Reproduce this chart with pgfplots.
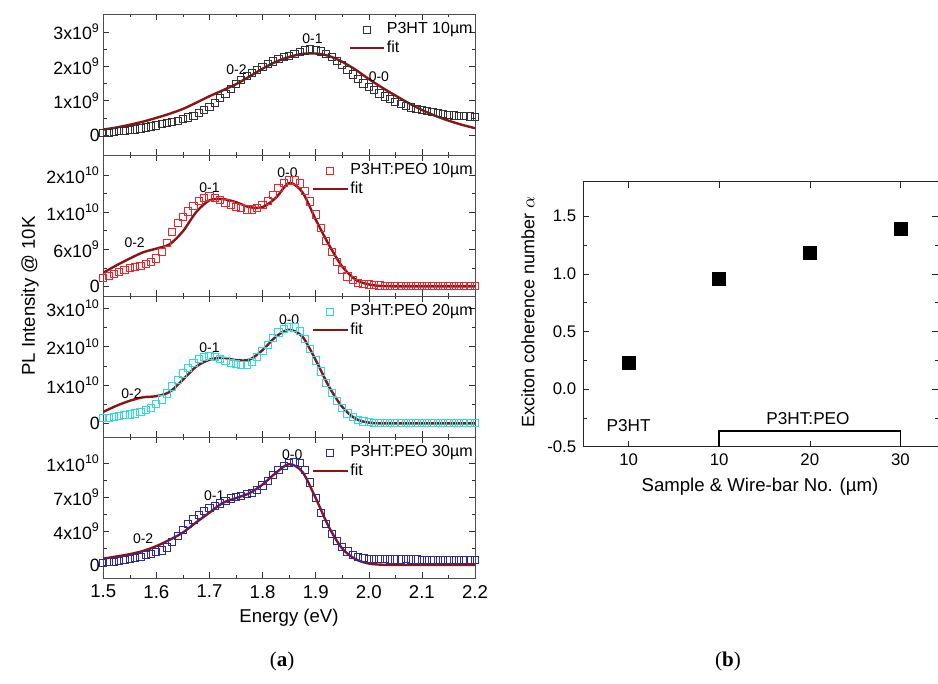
\documentclass[border=0pt]{standalone}
\usepackage{fontspec}
\setmainfont{Liberation Sans}
\newfontfamily\capfont{Liberation Serif}
\usepackage{pgfplots}
\pgfplotsset{compat=1.18}

\definecolor{fitred}{HTML}{8B1414}
\definecolor{pred}{HTML}{E8282E}
\definecolor{pcyan}{HTML}{2EDCE0}
\definecolor{pblue}{HTML}{2B2BA8}
\definecolor{pgray}{HTML}{333333}

\tikzset{pk/.style={font=\fontsize{7}{8}\selectfont}}
\pgfplotsset{
  spec/.style={
    scale only axis, anchor=north west,
    width=185.85pt, height=70.5pt,
    xmin=1.5, xmax=2.2,
    xtick={1.5,1.6,1.7,1.8,1.9,2.0,2.1,2.2},
    xticklabels={},
    minor x tick num=1, minor y tick num=1,
    tick align=inside,
    major tick length=3pt, minor tick length=1.7pt,
    axis line style={black!70},
    tick style={black!80},
    yticklabel style={font=\fontsize{8.9}{10}\selectfont, inner sep=1.5pt},
    legend style={at={(1,1)}, anchor=north east, yshift=-3.2pt, draw=none, fill=none,
      font=\fontsize{8}{9}\selectfont, inner sep=0pt, row sep=0pt,
      nodes={inner sep=1pt}},
    legend cell align=left,
  },
  dat/.style={only marks, mark=square, mark size=1.8pt, mark options={line width=0.5pt}},
  fitl/.style={no marks, smooth, fitred, line width=1.2pt},
}

\begin{document}
\begin{tikzpicture}
\useasboundingbox (0,0) rectangle (469pt,-342pt);

% panel 1: P3HT 10um (units 1e9)
\begin{axis}[spec, at={(51.65pt,-7pt)}, ymin=-0.58, ymax=3.52,
  ytick={0,1,2,3}, yticklabels={0,1x10\textsuperscript{9},2x10\textsuperscript{9},3x10\textsuperscript{9}},
  legend entries={P3HT 10µm, fit}]
\addplot[dat, pgray] coordinates {
(1.50,0.05) (1.51,0.07) (1.52,0.09) (1.53,0.11) (1.54,0.12) (1.55,0.14) (1.56,0.16) (1.57,0.19)
(1.58,0.22) (1.59,0.25) (1.60,0.28) (1.61,0.31) (1.62,0.34) (1.63,0.38) (1.64,0.42) (1.65,0.46)
(1.66,0.51) (1.67,0.56) (1.68,0.63) (1.69,0.72) (1.70,0.82) (1.71,0.94) (1.72,1.07) (1.73,1.20)
(1.74,1.34) (1.75,1.48) (1.76,1.60) (1.77,1.71) (1.78,1.81) (1.79,1.90) (1.80,1.99) (1.81,2.07)
(1.82,2.14) (1.83,2.20) (1.84,2.26) (1.85,2.31) (1.86,2.36) (1.87,2.41) (1.88,2.46) (1.89,2.49)
(1.90,2.48) (1.91,2.43) (1.92,2.36) (1.93,2.27) (1.94,2.16) (1.95,2.04) (1.96,1.90) (1.97,1.76)
(1.98,1.62) (1.99,1.50) (2.00,1.40) (2.01,1.30) (2.02,1.21) (2.03,1.12) (2.04,1.04) (2.05,0.97)
(2.06,0.91) (2.07,0.85) (2.08,0.80) (2.09,0.76) (2.10,0.72) (2.11,0.69) (2.12,0.66) (2.13,0.63)
(2.14,0.61) (2.15,0.59) (2.16,0.57) (2.17,0.56) (2.18,0.55) (2.19,0.54) (2.20,0.53)};
\addplot[fitl] coordinates {
(1.500,0.16) (1.525,0.22) (1.550,0.30) (1.575,0.39) (1.600,0.50) (1.625,0.62) (1.650,0.76)
(1.675,0.94) (1.700,1.13) (1.725,1.30) (1.750,1.48) (1.775,1.70) (1.800,1.93) (1.825,2.13)
(1.850,2.27) (1.875,2.36) (1.900,2.37) (1.925,2.30) (1.950,2.13) (1.975,1.90) (2.000,1.63)
(2.025,1.38) (2.050,1.15) (2.075,0.93) (2.100,0.73) (2.125,0.56) (2.150,0.42) (2.175,0.30) (2.200,0.20)};
\node[pk] at (axis cs:1.751,1.91) {0-2};
\node[pk] at (axis cs:1.894,2.80) {0-1};
\node[pk] at (axis cs:2.019,1.71) {0-0};
\end{axis}

% panel 2: P3HT:PEO 10um (units 1e9)
\begin{axis}[spec, at={(51.65pt,-77.5pt)}, ymin=-1.56, ymax=21.22,
  ytick={0,6,12,18}, yticklabels={0,6x10\textsuperscript{9},1x10\textsuperscript{10},2x10\textsuperscript{10}},
  legend entries={P3HT:PEO 10µm, fit}]
\addplot[dat, pred] coordinates {
(1.50,1.4) (1.51,1.7) (1.52,2.0) (1.53,2.3) (1.54,2.6) (1.55,2.9) (1.56,3.1) (1.57,3.3)
(1.58,3.6) (1.59,3.9) (1.60,4.5) (1.61,5.6) (1.62,7.0) (1.63,8.8) (1.64,10.2) (1.65,11.2)
(1.66,12.1) (1.67,13.0) (1.68,13.8) (1.69,14.3) (1.70,14.5) (1.71,14.3) (1.72,13.9) (1.73,13.5)
(1.74,13.1) (1.75,12.8) (1.76,12.6) (1.77,12.4) (1.78,12.4) (1.79,12.6) (1.80,13.1) (1.81,13.8)
(1.82,14.8) (1.83,15.9) (1.84,16.7) (1.85,17.1) (1.86,17.1) (1.87,16.6) (1.88,15.4) (1.89,13.7)
(1.90,11.6) (1.91,9.4) (1.92,7.3) (1.93,5.5) (1.94,3.9) (1.95,2.6) (1.96,1.6) (1.97,1.0)
(1.98,0.6) (1.99,0.4) (2.00,0.3) (2.01,0.2) (2.02,0.15) (2.03,0.1) (2.04,0.1) (2.05,0.1)
(2.06,0.1) (2.07,0.1) (2.08,0.1) (2.09,0.1) (2.10,0.1) (2.11,0.1) (2.12,0.1) (2.13,0.1)
(2.14,0.1) (2.15,0.1) (2.16,0.1) (2.17,0.1) (2.18,0.1) (2.19,0.1) (2.20,0.1)};
\addplot[fitl] coordinates {
(1.500,2.2) (1.525,3.4) (1.550,4.5) (1.575,5.5) (1.600,6.1) (1.625,6.8) (1.650,8.9)
(1.675,12.0) (1.700,13.9) (1.725,14.1) (1.750,13.6) (1.775,12.8) (1.800,12.8) (1.825,14.3)
(1.850,16.7) (1.875,15.2) (1.900,10.8) (1.925,6.7) (1.950,3.2) (1.975,1.1) (2.000,0.3)
(2.025,0.05) (2.050,0) (2.100,0) (2.150,0) (2.200,0)};
\node[pk] at (axis cs:1.559,7.0) {0-2};
\node[pk] at (axis cs:1.700,15.9) {0-1};
\node[pk] at (axis cs:1.847,18.4) {0-0};
\end{axis}

% panel 3: P3HT:PEO 20um (units 1e10)
\begin{axis}[spec, at={(51.65pt,-148pt)}, ymin=-0.355, ymax=3.32,
  ytick={0,1,2,3}, yticklabels={0,1x10\textsuperscript{10},2x10\textsuperscript{10},3x10\textsuperscript{10}},
  legend entries={P3HT:PEO 20µm, fit}]
\addplot[dat, pcyan] coordinates {
(1.50,0.13) (1.51,0.15) (1.52,0.17) (1.53,0.19) (1.54,0.21) (1.55,0.23) (1.56,0.26) (1.57,0.30)
(1.58,0.35) (1.59,0.41) (1.60,0.50) (1.61,0.62) (1.62,0.78) (1.63,0.96) (1.64,1.13) (1.65,1.30)
(1.66,1.45) (1.67,1.58) (1.68,1.68) (1.69,1.73) (1.70,1.75) (1.71,1.73) (1.72,1.68) (1.73,1.62)
(1.74,1.57) (1.75,1.54) (1.76,1.52) (1.77,1.53) (1.78,1.60) (1.79,1.72) (1.80,1.88) (1.81,2.05)
(1.82,2.22) (1.83,2.37) (1.84,2.47) (1.85,2.52) (1.86,2.50) (1.87,2.40) (1.88,2.20) (1.89,1.93)
(1.90,1.64) (1.91,1.35) (1.92,1.06) (1.93,0.80) (1.94,0.58) (1.95,0.40) (1.96,0.26) (1.97,0.16)
(1.98,0.09) (1.99,0.05) (2.00,0.03) (2.01,0.02) (2.02,0.01) (2.03,0.01) (2.04,0.01) (2.05,0.01)
(2.06,0.01) (2.07,0.01) (2.08,0.01) (2.09,0.01) (2.10,0.01) (2.11,0.01) (2.12,0.01) (2.13,0.01)
(2.14,0.01) (2.15,0.01) (2.16,0.01) (2.17,0.01) (2.18,0.01) (2.19,0.01) (2.20,0.01)};
\addplot[fitl] coordinates {
(1.500,0.30) (1.525,0.46) (1.550,0.59) (1.575,0.68) (1.600,0.71) (1.625,0.82) (1.650,1.14)
(1.675,1.48) (1.700,1.66) (1.725,1.71) (1.750,1.65) (1.775,1.66) (1.800,1.91) (1.825,2.26)
(1.850,2.44) (1.875,2.26) (1.900,1.65) (1.925,0.96) (1.950,0.43) (1.975,0.12) (2.000,0.02)
(2.025,0) (2.100,0) (2.200,0)};
\node[pk] at (axis cs:1.553,0.78) {0-2};
\node[pk] at (axis cs:1.700,1.96) {0-1};
\node[pk] at (axis cs:1.850,2.70) {0-0};
\end{axis}

% panel 4: P3HT:PEO 30um (units 1e9)
\begin{axis}[spec, at={(51.65pt,-218.5pt)}, ymin=-1.34, ymax=13.2,
  ytick={0,3.5,7,10.5}, yticklabels={0,4x10\textsuperscript{9},7x10\textsuperscript{9},1x10\textsuperscript{10}},
  xticklabels={1.5,1.6,1.7,1.8,1.9,2.0,2.1,2.2},
  xticklabel style={font=\fontsize{9.3}{10}\selectfont},
  legend entries={P3HT:PEO 30µm, fit}]
\addplot[dat, pblue] coordinates {
(1.50,0.20) (1.51,0.27) (1.52,0.34) (1.53,0.42) (1.54,0.50) (1.55,0.60) (1.56,0.72) (1.57,0.86)
(1.58,1.00) (1.59,1.15) (1.60,1.30) (1.61,1.50) (1.62,1.80) (1.63,2.40) (1.64,3.00) (1.65,3.60)
(1.66,4.20) (1.67,4.70) (1.68,5.15) (1.69,5.55) (1.70,5.85) (1.71,6.10) (1.72,6.35) (1.73,6.60)
(1.74,6.85) (1.75,7.00) (1.76,7.15) (1.77,7.30) (1.78,7.45) (1.79,7.75) (1.80,8.20) (1.81,8.70)
(1.82,9.25) (1.83,9.80) (1.84,10.20) (1.85,10.50) (1.86,10.65) (1.87,10.50) (1.88,9.80) (1.89,8.50)
(1.90,6.90) (1.91,5.40) (1.92,4.20) (1.93,3.20) (1.94,2.50) (1.95,1.85) (1.96,1.40) (1.97,1.05)
(1.98,0.85) (1.99,0.72) (2.00,0.65) (2.01,0.62) (2.02,0.60) (2.03,0.58) (2.04,0.57) (2.05,0.57)
(2.06,0.56) (2.07,0.58) (2.08,0.57) (2.09,0.56) (2.10,0.55) (2.11,0.55) (2.12,0.54) (2.13,0.55)
(2.14,0.54) (2.15,0.54) (2.16,0.53) (2.17,0.53) (2.18,0.53) (2.19,0.52) (2.20,0.52)};
\addplot[fitl] coordinates {
(1.500,0.65) (1.525,0.88) (1.550,1.12) (1.575,1.45) (1.600,1.95) (1.625,2.60) (1.650,3.35)
(1.675,4.40) (1.700,5.40) (1.725,6.40) (1.750,6.90) (1.775,7.40) (1.800,8.30) (1.825,9.50)
(1.850,10.40) (1.875,9.60) (1.900,6.90) (1.925,3.90) (1.950,1.70) (1.975,0.60) (2.000,0.15)
(2.025,0.03) (2.050,0) (2.100,0) (2.150,0) (2.200,0)};
\node[pk] at (axis cs:1.575,2.75) {0-2};
\node[pk] at (axis cs:1.709,7.20) {0-1};
\node[pk] at (axis cs:1.856,11.35) {0-0};
\end{axis}

\node[rotate=90, font=\fontsize{9.3}{11}\selectfont] at (15pt,-148pt) {PL Intensity @ 10K};
\node[font=\fontsize{9.3}{11}\selectfont] at (144.5pt,-309pt) {Energy (eV)};

% panel b
\begin{axis}[
  scale only axis, anchor=north west, at={(291.65pt,-90.85pt)},
  width=177.35pt, height=132.5pt,
  xmin=0.5, xmax=4.415, ymin=-0.5, ymax=1.8,
  xtick={1,2,3,4}, xticklabels={10,10,20,30},
  ytick={-0.5,0,0.5,1,1.5}, yticklabels={-0.5,0.0,0.5,1.0,1.5},
  minor y tick num=1,
  tick align=inside, major tick length=3pt, minor tick length=1.7pt,
  ticklabel style={font=\fontsize{8.4}{10}\selectfont},
  axis line style={black!85}, tick style={black!85},
]
\addplot[only marks, mark=square*, mark size=3.25pt, black] coordinates {
(1,0.223) (2,0.953) (3,1.185) (4,1.389)};
\addplot[black, line width=0.9pt, sharp plot, no marks] coordinates {
(2,-0.5) (2,-0.364) (4,-0.364) (4,-0.5)};
\node[font=\fontsize{8.6}{10}\selectfont] at (axis cs:1,-0.32) {P3HT};
\node[font=\fontsize{8.6}{10}\selectfont] at (axis cs:2.98,-0.254) {P3HT:PEO};
\end{axis}

\node[rotate=90, font=\fontsize{9}{11}\selectfont] at (264pt,-156pt) {Exciton coherence number $\alpha$};
\node[font=\fontsize{9.3}{11}\selectfont] at (380pt,-243.5pt) {Sample \& Wire-bar No. (µm)};

\node[font=\capfont\fontsize{10.5}{12}\selectfont] at (141pt,-330.5pt) {(\textbf{a})};
\node[font=\capfont\fontsize{10.5}{12}\selectfont] at (364pt,-330.5pt) {(\textbf{b})};
\end{tikzpicture}
\end{document}
